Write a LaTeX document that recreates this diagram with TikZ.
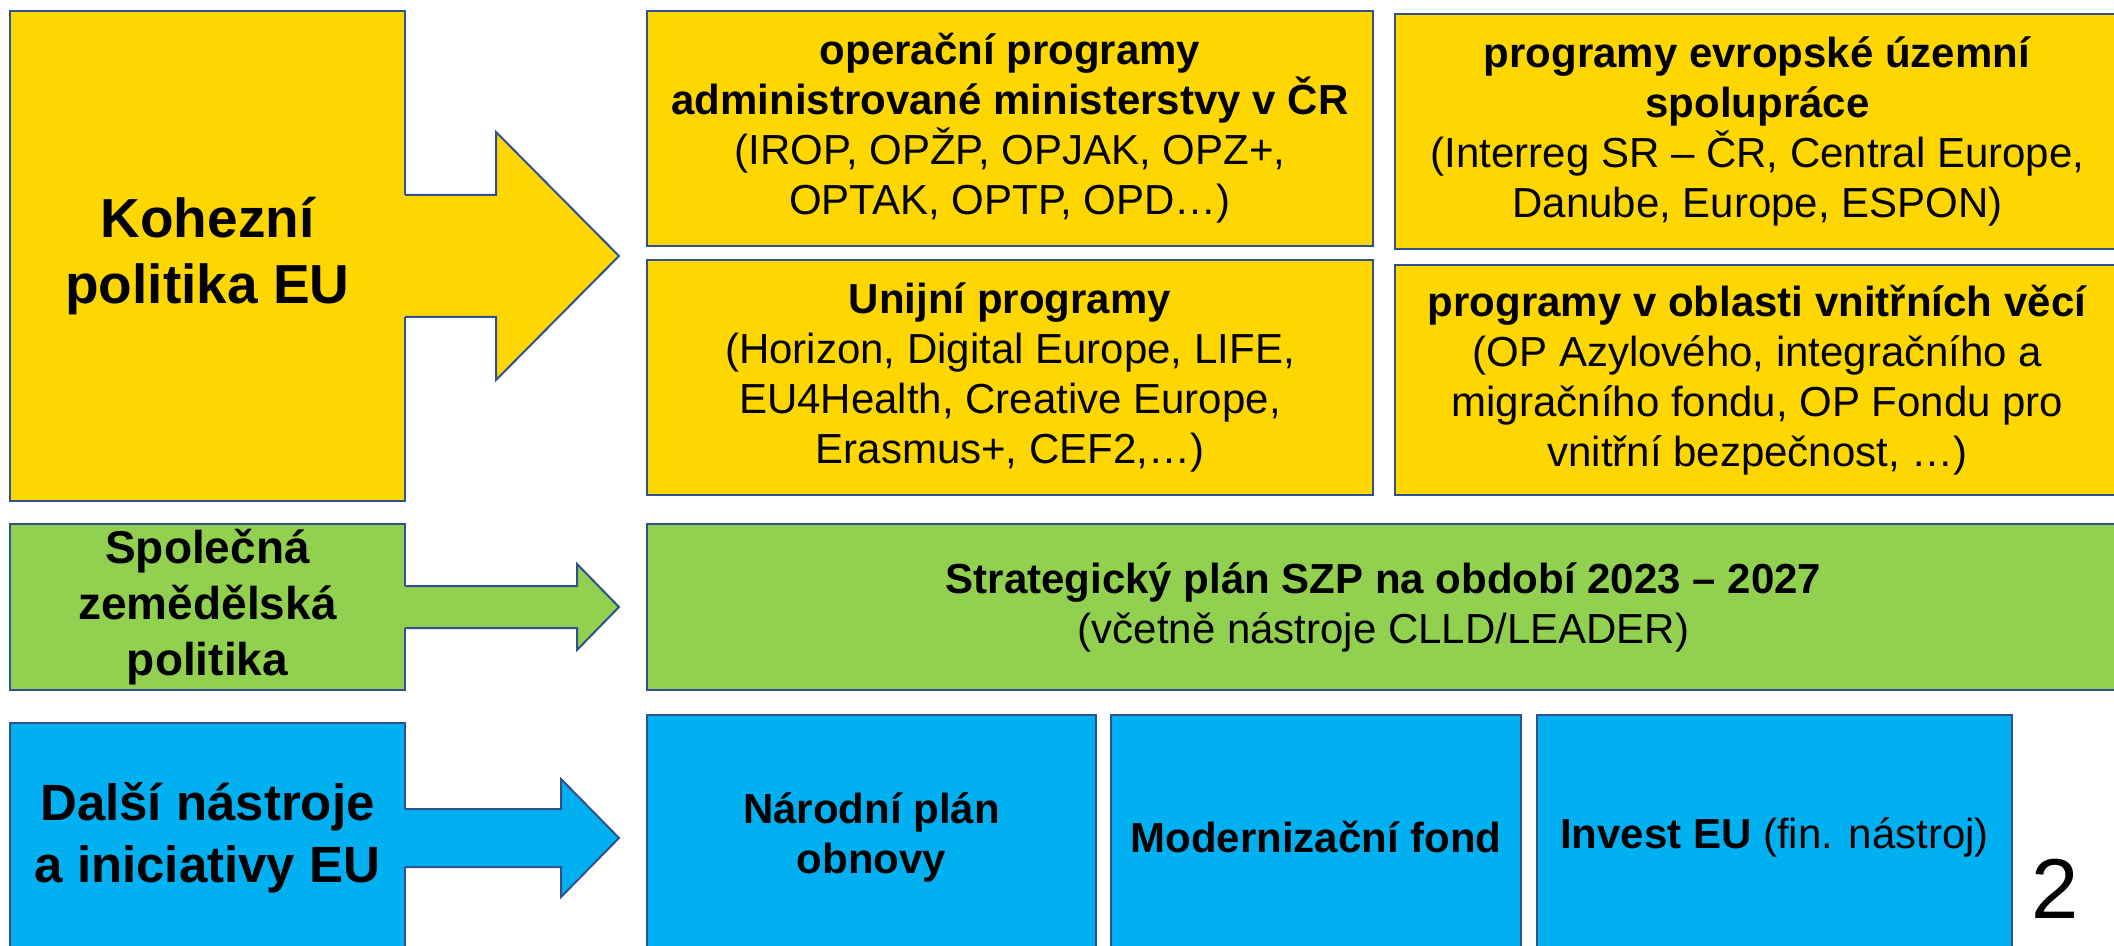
\documentclass[tikz,border=0pt]{standalone}
\usepackage{fontspec}
\setmainfont{Liberation Sans}
\usepackage{tikz}
\usetikzlibrary{calc}

\definecolor{kyellow}{HTML}{FFD700}
\definecolor{kgreen}{HTML}{92D050}
\definecolor{kblue}{HTML}{00B0F0}
\definecolor{kedge}{HTML}{2F528F}

\tikzset{
  box/.style={draw=kedge, line width=1pt, anchor=north west, inner sep=2pt,
    outer sep=0pt, align=center, font=\fontsize{21}{25}\selectfont},
  edge/.style={draw=kedge, line width=1pt, line join=miter}
}

\begin{document}
\begin{tikzpicture}[x=0.5pt, y=-0.5pt]
    \useasboundingbox (0,0) rectangle (2114,946);
    % left column
    \node[box, fill=kyellow, minimum width=197.5pt, minimum height=245pt,
      font=\fontsize{27.5}{33}\selectfont\bfseries] (koh) at (10,11)
      {Kohezní\\politika EU};
    \node[box, fill=kgreen, minimum width=197.5pt, minimum height=83pt,
      font=\fontsize{23}{28}\selectfont\bfseries] (spol) at (10,524)
      {Společná\\zemědělská\\politika};
    \node[box, fill=kblue, minimum width=197.5pt, minimum height=115pt,
      font=\fontsize{25.5}{31}\selectfont\bfseries] (dal) at (10,723)
      {Další nástroje\\a iniciativy EU};
    % yellow boxes
    \node[box, fill=kyellow, minimum width=363pt, minimum height=117.5pt] (op) at (647,11)
      {\textbf{operační programy}\\\textbf{administrované ministerstvy v ČR}\\(IROP, OPŽP, OPJAK, OPZ+,\\OPTAK, OPTP, OPD…)};
    \node[box, fill=kyellow, minimum width=363pt, minimum height=117.5pt] (uni) at (647,260)
      {\textbf{Unijní programy}\\(Horizon, Digital Europe, LIFE,\\EU4Health, Creative Europe,\\Erasmus+, CEF2,…)};
    \node[box, fill=kyellow, minimum width=362.5pt, minimum height=117.5pt] (evr) at (1395,14)
      {\textbf{programy evropské územní}\\\textbf{spolupráce}\\(Interreg SR – ČR, Central Europe,\\Danube, Europe, ESPON)};
    \node[box, fill=kyellow, minimum width=362.5pt, minimum height=115pt] (vni) at (1395,265)
      {\textbf{programy v oblasti vnitřních věcí}\\(OP Azylového, integračního a\\migračního fondu, OP Fondu pro\\vnitřní bezpečnost, …)};
    % green box
    \node[box, fill=kgreen, minimum width=736.5pt, minimum height=83pt] (str) at (647,524)
      {\textbf{Strategický plán SZP na období 2023 – 2027}\\(včetně nástroje CLLD/LEADER)};
    % blue boxes
    \node[box, fill=kblue, minimum width=224.5pt, minimum height=122.5pt] (nar) at (647,715)
      {\textbf{Národní plán}\\\textbf{obnovy}};
    \node[box, fill=kblue, minimum width=205pt, minimum height=122.5pt] (mod) at (1111,715)
      {\textbf{Modernizační fond}};
    \node[box, fill=kblue, minimum width=237.5pt, minimum height=122.5pt] (inv) at (1537,715)
      {\textbf{Invest EU} (fin. nástroj)};
    \node[anchor=base, inner sep=0pt, font=\fontsize{42.5}{50}\selectfont] (num) at (2055,918) {2};

    % block arrows
    \fill[kyellow] (koh.east) ++(-3,-61) -- ++(94,0) -- ++(0,-63) -- ++(123,124)
      -- ++(-123,124) -- ++(0,-63) -- ++(-94,0) -- cycle;
    \draw[edge] (koh.east) ++(0,-61) -- ++(91,0) -- ++(0,-63) -- ++(123,124)
      -- ++(-123,124) -- ++(0,-63) -- ++(-91,0);
    \fill[kgreen] (spol.east) ++(-3,-21) -- ++(175,0) -- ++(0,-22) -- ++(42,43)
      -- ++(-42,43) -- ++(0,-22) -- ++(-175,0) -- cycle;
    \draw[edge] (spol.east) ++(0,-21) -- ++(172,0) -- ++(0,-22) -- ++(42,43)
      -- ++(-42,43) -- ++(0,-22) -- ++(-172,0);
    \fill[kblue] (dal.east) ++(-3,-29) -- ++(159,0) -- ++(0,-30) -- ++(58,59)
      -- ++(-58,59) -- ++(0,-30) -- ++(-159,0) -- cycle;
    \draw[edge] (dal.east) ++(0,-29) -- ++(156,0) -- ++(0,-30) -- ++(58,59)
      -- ++(-58,59) -- ++(0,-30) -- ++(-156,0);
\end{tikzpicture}
\end{document}
